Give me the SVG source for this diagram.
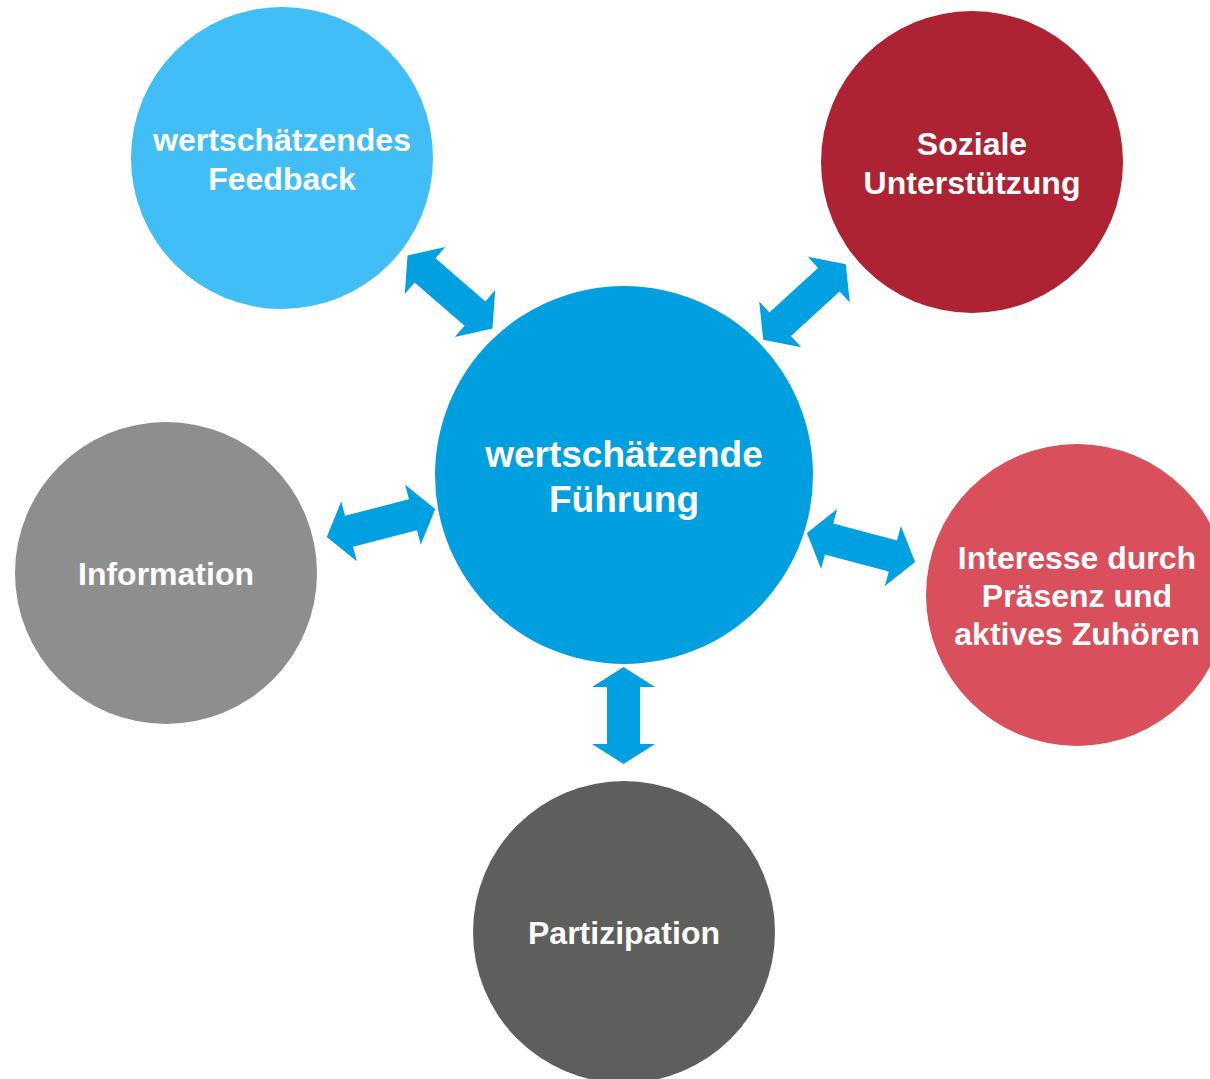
<svg xmlns="http://www.w3.org/2000/svg" width="1210" height="1079" viewBox="0 0 1210 1079">
  <style>
    .lbl { font-family: "Liberation Sans", Arial, sans-serif; font-weight: bold; fill: #ffffff; text-anchor: middle; }
    .outer { font-size: 32px; }
    .core { font-size: 37px; }
    .arrow { fill: #00A0E1; }
  </style>
  <defs>
    <!-- double-headed block arrow, long axis along x -->
    <path id="dbl" d="M -56,0 L -33,-31 L -33,-16 L 33,-16 L 33,-31 L 56,0 L 33,31 L 33,16 L -33,16 L -33,31 Z"/>
    <path id="dblShort" d="M -48.5,0 L -28.5,-31.5 L -28.5,-16.5 L 28.5,-16.5 L 28.5,-31.5 L 48.5,0 L 28.5,31.5 L 28.5,16.5 L -28.5,16.5 L -28.5,31.5 Z"/>
  </defs>

  <rect width="1210" height="1079" fill="#ffffff"/>

  <g id="connectors" class="arrow">
    <use href="#dbl" transform="translate(450,292) rotate(40.7)"/>
    <use href="#dbl" transform="translate(804.5,302) rotate(-42.5)"/>
    <use href="#dbl" transform="translate(381,523) rotate(-14.5)"/>
    <use href="#dbl" transform="translate(861,547.5) rotate(15)"/>
    <use href="#dblShort" transform="translate(623.5,715.5) rotate(90)"/>
  </g>

  <g id="feedback">
    <circle cx="282" cy="158" r="151" fill="#40BEF5"/>
    <text class="lbl outer" x="282" y="150.5">wertschätzendes</text>
    <text class="lbl outer" x="282" y="190">Feedback</text>
  </g>

  <g id="soziale-unterstuetzung">
    <circle cx="972" cy="162" r="151" fill="#AE2334"/>
    <text class="lbl outer" x="972" y="155">Soziale</text>
    <text class="lbl outer" x="972" y="194">Unterstützung</text>
  </g>

  <g id="information">
    <circle cx="166" cy="573" r="151" fill="#8E8E8E"/>
    <text class="lbl outer" x="166" y="585">Information</text>
  </g>

  <g id="interesse">
    <circle cx="1077" cy="595" r="151" fill="#D94F5B"/>
    <text class="lbl outer" x="1077" y="569">Interesse durch</text>
    <text class="lbl outer" x="1077" y="607">Präsenz und</text>
    <text class="lbl outer" x="1077" y="645">aktives Zuhören</text>
  </g>

  <g id="partizipation">
    <circle cx="624" cy="932" r="151" fill="#5E5E5D"/>
    <text class="lbl outer" x="624" y="944">Partizipation</text>
  </g>

  <g id="fuehrung">
    <circle cx="624" cy="475" r="189" fill="#009FE0"/>
    <text class="lbl core" x="624" y="467">wertschätzende</text>
    <text class="lbl core" x="624" y="512">Führung</text>
  </g>
</svg>
